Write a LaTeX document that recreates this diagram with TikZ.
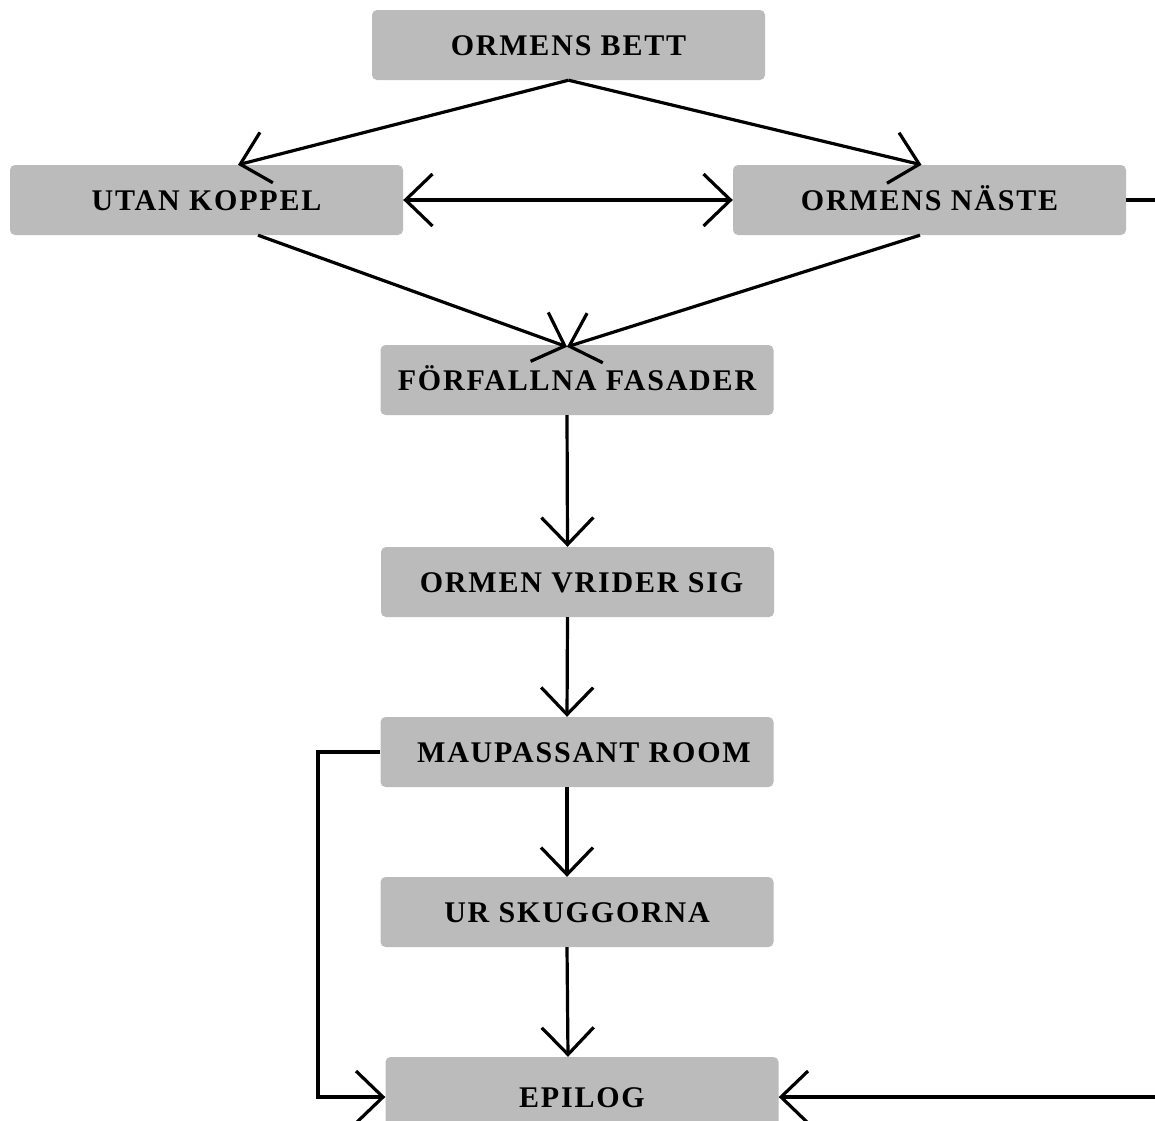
\documentclass[tikz,border=0pt]{standalone}
\usepackage{fontspec}
\newfontfamily\gothfont[LetterSpace=6]{Liberation Serif}
\usetikzlibrary{arrows.meta,calc}
\definecolor{boxgray}{HTML}{BBBBBB}
\begin{document}
\begin{tikzpicture}[x=1pt,y=-1pt,
  box/.style={fill=boxgray, rounded corners=5pt, minimum width=393pt, minimum height=70pt,
    inner sep=0pt, text height=20pt, text depth=0pt,
    font=\gothfont\bfseries\fontsize{30}{32}\selectfont},
  conn/.style={line width=3.2pt, -{Straight Barb[length=27pt,width=52pt]}},
  dconn/.style={line width=3.2pt, {Straight Barb[length=27pt,width=52pt]}-{Straight Barb[length=27pt,width=52pt]}}]
\useasboundingbox (0,0) rectangle (1155,1120);
\clip (0,0) rectangle (1155,1120);
\fill[white] (0,0) rectangle (1155,1120);

\node[box] (bett)   at (568.5,45)  {ORMENS BETT};
\node[box] (utan)   at (206.5,200) {UTAN KOPPEL};
\node[box] (naeste) at (929.5,200) {ORMENS NÄSTE};
\node[box] (fasad)  at (577,380)   {FÖRFALLNA FASADER};
\node[box] (vrider) at (577.5,582) {\hspace{8pt}ORMEN VRIDER SIG};
\node[box] (maup)   at (577,752)   {\hspace{14pt}MAUPASSANT ROOM};
\node[box] (skugg)  at (577,912)   {UR SKUGGORNA};
\node[box, minimum height=80pt] (epilog) at (582,1097) {EPILOG};

\coordinate (lc) at (318,752);
\coordinate (rc) at (1175,200);

\draw[conn] (bett.south) -- ([xshift=31.5pt]utan.north);
\draw[conn] (bett.south) -- ([xshift=-8pt]naeste.north);
\draw[dconn] (utan.east) -- (naeste.east -| naeste.west);
\draw[conn] ([xshift=51.5pt]utan.south) -- ([xshift=-10pt,yshift=-2pt]fasad.north);
\draw[conn] ([xshift=-9.5pt]naeste.south) -- ([xshift=-10pt,yshift=-2pt]fasad.north);
\draw[conn] ([xshift=-10pt]fasad.south) -- ([xshift=-10pt]vrider.north);
\draw[conn] ([xshift=-10pt]vrider.south) -- ([xshift=-10pt]maup.north);
\draw[conn] ([xshift=-10pt]maup.south) -- ([xshift=-10pt]skugg.north);
\draw[conn] ([xshift=-10pt]skugg.south) -- ([xshift=-14pt]epilog.north);
\draw[conn] (maup.west) -- (lc) |- (epilog.west);
\draw[conn] (naeste.east) -- (rc) |- (epilog.east);
\end{tikzpicture}
\end{document}
